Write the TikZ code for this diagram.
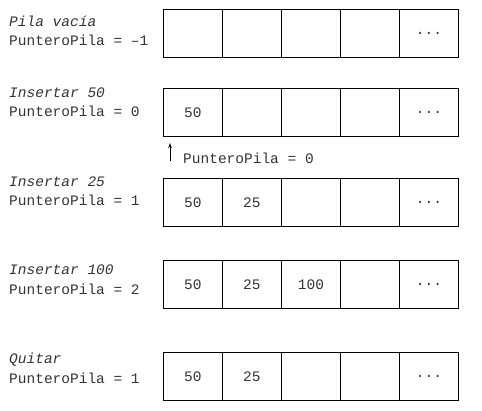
\documentclass[tikz,border=0pt]{standalone}
\usepackage{fontspec}
\setmonofont{Liberation Mono}
\usepackage{tikz}
\usetikzlibrary{arrows.meta}

\begin{document}
\begin{tikzpicture}[x=1pt,y=-1pt,
  font=\ttfamily\fontsize{14.5}{16}\selectfont,
  cell/.style={draw,line width=0.8pt,minimum width=59pt,minimum height=48pt,
    inner sep=0pt,anchor=north west},
  lbl/.style={anchor=west,inner sep=0pt,text=black!80}]
\useasboundingbox (0,0) rectangle (482,411);

% Stack cells
\foreach \r/\yy in {a/9,b/88,c/178,d/260,e/352} {
  \foreach \i in {0,...,4} {
    \node[cell] (\r\i) at (163+\i*59,\yy) {};
  }
  \node[text=black!80] (dots\r) at (\r4) {...};
}

% Values in the stack
\foreach \c/\t in {b0/50,c0/50,c1/25,d0/50,d1/25,d2/100,e0/50,e1/25} {
  \node[text=black!80] (v\c) at (\c) {\t};
}

% Operations
\node[lbl] (opa) at (9,21) {\itshape Pila vacía};
\node[lbl] (pa) at (9,40) {PunteroPila = –1};
\node[lbl] (opb) at (9,93) {\itshape Insertar 50};
\node[lbl] (pb) at (9,111) {PunteroPila = 0};
\node[lbl] (opc) at (9,182) {\itshape Insertar 25};
\node[lbl] (pc) at (9,200) {PunteroPila = 1};
\node[lbl] (opd) at (9,270) {\itshape Insertar 100};
\node[lbl] (pd) at (9,289) {PunteroPila = 2};
\node[lbl] (ope) at (9,360) {\itshape Quitar};
\node[lbl] (pe) at (9,378) {PunteroPila = 1};

% Pointer
\coordinate (ptail) at (170,161);
\coordinate (phead) at (170,143);
\draw[line width=0.8pt,-{Stealth[length=5pt,width=3.5pt]}] (ptail) -- (phead);
\node[lbl] (plbl) at (183,158) {PunteroPila = 0};
\end{tikzpicture}
\end{document}
